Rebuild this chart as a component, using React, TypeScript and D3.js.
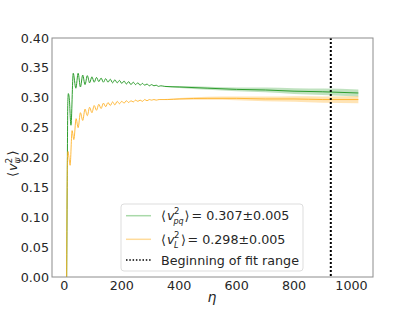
import React from "react"
import * as d3 from "d3"

// green series: <v^2_pq>
const greenEta = [8, 10, 12, 14, 17, 23, 31, 40, 48, 56, 64, 72, 80, 88, 96, 104, 112, 120, 128, 136, 144, 152, 160, 168, 176, 184, 192, 200, 208, 216, 224, 232, 240, 248, 256, 264, 272, 280, 288, 296, 304, 312, 320, 328, 336, 350, 400, 500, 600, 700, 800, 900, 1024]
const greenVal = [0.0, 0.15, 0.29, 0.307, 0.3, 0.254, 0.341, 0.316, 0.341, 0.318, 0.338, 0.322, 0.337, 0.325, 0.335, 0.326, 0.334, 0.327, 0.333, 0.326, 0.332, 0.326, 0.331, 0.325, 0.33, 0.325, 0.329, 0.324, 0.328, 0.323, 0.327, 0.322, 0.326, 0.322, 0.325, 0.321, 0.324, 0.321, 0.323, 0.32, 0.322, 0.32, 0.321, 0.319, 0.32, 0.319, 0.318, 0.316, 0.314, 0.313, 0.311, 0.31, 0.308]

// orange series: <v^2_L>
const orangeEta = [8, 9, 11, 13, 16, 20, 27, 33, 41, 48, 56, 64, 72, 80, 88, 96, 104, 112, 120, 128, 136, 144, 152, 160, 168, 176, 184, 192, 200, 208, 216, 224, 232, 240, 248, 256, 264, 272, 280, 288, 296, 304, 312, 320, 330, 360, 400, 500, 600, 700, 800, 900, 1024]
const orangeVal = [0.0, 0.1, 0.2, 0.21, 0.2, 0.187, 0.245, 0.23, 0.265, 0.25, 0.275, 0.262, 0.281, 0.27, 0.284, 0.275, 0.287, 0.279, 0.289, 0.282, 0.291, 0.285, 0.292, 0.287, 0.293, 0.288, 0.294, 0.29, 0.294, 0.291, 0.295, 0.292, 0.295, 0.293, 0.296, 0.294, 0.296, 0.294, 0.297, 0.295, 0.297, 0.296, 0.297, 0.296, 0.297, 0.297, 0.298, 0.299, 0.299, 0.298, 0.298, 0.297, 0.297]

// uncertainty bands
const bandEta = [350, 400, 500, 600, 700, 800, 900, 1024]
const greenBandMid = [0.319, 0.318, 0.316, 0.314, 0.313, 0.311, 0.31, 0.308]
const orangeBandMid = [0.297, 0.298, 0.299, 0.299, 0.298, 0.298, 0.297, 0.297]
const bandErr = [0.0008, 0.0015, 0.0025, 0.0032, 0.004, 0.0047, 0.0053, 0.006]

const fitStart = 928
const xTicks = [0, 200, 400, 600, 800, 1000]
const yTicks = [0, 0.05, 0.1, 0.15, 0.2, 0.25, 0.3, 0.35, 0.4]

const W = 415
const H = 312
const left = 52, right = 373, top = 38, bottom = 277
const font = "DejaVu Sans"
const ink = "#262626"
const GREEN = "#2f9e2f"
const ORANGE = "#ffb22a"

const App = () => {
    const x = d3.scaleLinear().domain([-43, 1075]).range([left, right])
    const y = d3.scaleLinear().domain([0, 0.4]).range([bottom, top])

    const line = d3.line<[number, number]>()
        .x(d => x(d[0]))
        .y(d => y(d[1]))
        .curve(d3.curveMonotoneX)

    const area = d3.area<[number, number, number]>()
        .x(d => x(d[0]))
        .y0(d => y(d[1] - d[2]))
        .y1(d => y(d[1] + d[2]))
        .curve(d3.curveMonotoneX)

    const gPts = greenEta.map((e, i) => [e, greenVal[i]] as [number, number])
    const oPts = orangeEta.map((e, i) => [e, orangeVal[i]] as [number, number])
    const gBand = bandEta.map((e, i) => [e, greenBandMid[i], bandErr[i]] as [number, number, number])
    const oBand = bandEta.map((e, i) => [e, orangeBandMid[i], bandErr[i]] as [number, number, number])

    const fs = 12.7
    const legRows = [215.7, 239.3, 260]

    return (
        <svg width={W} height={H} style={{ position: "absolute", left: 0, top: 0 }} fontFamily={font}>
            <rect x={0} y={0} width={W} height={H} fill="white" />
            <path d={area(gBand) || ""} fill={GREEN} opacity={0.3} />
            <path d={area(oBand) || ""} fill={ORANGE} opacity={0.35} />
            <path d={line(gPts) || ""} fill="none" stroke={GREEN} strokeWidth={1} />
            <path d={line(oPts) || ""} fill="none" stroke={ORANGE} strokeWidth={1} opacity={0.9} />
            <line x1={x(fitStart)} x2={x(fitStart)} y1={top} y2={bottom} stroke="black" strokeWidth={2} strokeDasharray="2,2" />

            {/* frame */}
            <rect x={left} y={top} width={right - left} height={bottom - top} fill="none" stroke="#8c8c8c" strokeWidth={1} />

            {yTicks.map(t => (
                <text key={t} x={49} y={y(t) + 4.6} textAnchor="end" fontSize={fs} fill={ink}>{d3.format(".2f")(t)}</text>
            ))}
            {xTicks.map(t => (
                <text key={t} x={x(t)} y={290} textAnchor="middle" fontSize={fs} fill={ink}>{t}</text>
            ))}
            <text x={212} y={302} textAnchor="middle" fontSize={14} fontStyle="italic" fill={ink}>η</text>

            {/* y label */}
            <g transform="translate(17,160) rotate(-90)" fill={ink}>
                <text x={-17} y={0} fontSize={13}>⟨</text>
                <text x={-11} y={0} fontSize={13} fontStyle="italic">v</text>
                <text x={-3.5} y={-5} fontSize={9}>2</text>
                <text x={-3.5} y={3} fontSize={9} fontStyle="italic">ψ</text>
                <text x={4.5} y={0} fontSize={13}>⟩</text>
            </g>

            {/* legend */}
            <rect x={121} y={204} width={182} height={67} rx={3} fill="white" fillOpacity={0.8} stroke="#dddddd" strokeWidth={1} />
            <line x1={126} x2={151} y1={legRows[0]} y2={legRows[0]} stroke="#a9d9a9" strokeWidth={1.5} />
            <line x1={126} x2={151} y1={legRows[1]} y2={legRows[1]} stroke="#ffdb9a" strokeWidth={1.5} />
            <line x1={126} x2={151} y1={legRows[2]} y2={legRows[2]} stroke="black" strokeWidth={1.5} strokeDasharray="1.5,1.8" />

            <g fill={ink} fontSize={fs}>
                <text x={161} y={220}>⟨</text>
                <text x={167} y={220} fontStyle="italic">v</text>
                <text x={174} y={214} fontSize={8.5}>2</text>
                <text x={173.5} y={223.5} fontSize={8} fontStyle="italic">pq</text>
                <text x={184.5} y={220}>⟩</text>
                <text x={191.5} y={220}>= 0.307±0.005</text>

                <text x={161} y={244}>⟨</text>
                <text x={167} y={244} fontStyle="italic">v</text>
                <text x={174} y={238} fontSize={8.5}>2</text>
                <text x={174} y={247.5} fontSize={8} fontStyle="italic">L</text>
                <text x={181} y={244}>⟩</text>
                <text x={187.5} y={244}>= 0.298±0.005</text>

                <text x={161} y={264.5}>Beginning of fit range</text>
            </g>
        </svg>
    )
}

export default App
